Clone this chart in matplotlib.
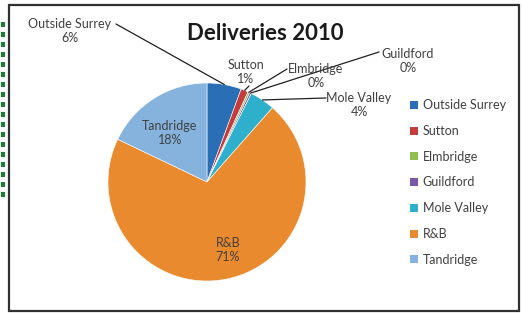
import matplotlib
matplotlib.use("Agg")
import matplotlib.pyplot as plt
from matplotlib.patches import Rectangle, Patch
from matplotlib.lines import Line2D
import numpy as np

plt.rcParams['font.family'] = ['Lato', 'DejaVu Sans']

categories = ["Outside Surrey", "Sutton", "Elmbridge", "Guildford", "Mole Valley", "R&B", "Tandridge"]
values = [5.6, 1.2, 0.3, 0.3, 4.1, 70.6, 17.9]
pct_labels = ["6%", "1%", "0%", "0%", "4%", "71%", "18%"]
colors = ["#2a6fb6", "#c43c3c", "#8fbf4f", "#7a58a8", "#2eb0cc", "#ea8a2e", "#85b3de"]

W, H = 522, 313
fig = plt.figure(figsize=(W / 100, H / 100), dpi=100)
fig.patch.set_facecolor("white")

def fx(x):
    return x / W

def fy(y):
    return 1 - y / H

# chart frame
fig.add_artist(Rectangle((fx(9), fy(311)), fx(510), 306 / H, transform=fig.transFigure,
                         fill=False, edgecolor="#303030", linewidth=1.6))
# green dashed decoration on the far left
fig.add_artist(Line2D([fx(2.5), fx(2.5)], [fy(22), fy(198)], transform=fig.transFigure,
                      color="#1f7a35", linewidth=3, linestyle=(0, (1.2, 1.2))))

cx, cy, r = 207, 182, 99
ax = fig.add_axes([fx(cx - r), fy(cy + r), 2 * r / W, 2 * r / H])
wedges, _ = ax.pie(values, colors=colors, startangle=90, counterclock=False,
                   wedgeprops=dict(linewidth=0.4, edgecolor="white"))
ax.set_xlim(-1, 1)
ax.set_ylim(-1, 1)
ax.set_aspect("equal")
ax.axis("off")

fig.text(fx(265), fy(34), "Deliveries 2010", ha="center", va="center",
         fontsize=16, fontweight="bold", color="#1a1a1a")

lab_col = "#404040"
fs = 9

def mid_point(w, rr=1.0):
    ang = np.deg2rad((w.theta1 + w.theta2) / 2)
    return (rr * np.cos(ang), rr * np.sin(ang))

# outside labels: (index, text center px, leader start px)
outside = [
    (0, (70, 31), (116, 24)),
    (1, (246, 72), (249, 86)),
    (2, (316, 76), (287, 69)),
    (3, (408, 61), (379, 52)),
    (4, (359, 105), (326, 98)),
]
for i, (tx, ty), (lx, ly) in outside:
    fig.text(fx(tx), fy(ty), categories[i] + "\n" + pct_labels[i], ha="center", va="center",
             fontsize=fs, color=lab_col, linespacing=1.15)
    ax.annotate("", xy=mid_point(wedges[i], 1.0), xycoords="data",
                xytext=(lx, H - ly), textcoords="figure pixels",
                arrowprops=dict(arrowstyle="-", color="#202020", lw=0.9,
                                shrinkA=0, shrinkB=0))

# inside labels
for i, (tx, ty) in [(6, (170, 133)), (5, (228, 250))]:
    fig.text(fx(tx), fy(ty), categories[i] + "\n" + pct_labels[i], ha="center", va="center",
             fontsize=fs, color=lab_col, linespacing=1.15)

handles = [Patch(facecolor=c, edgecolor="none") for c in colors]
leg = fig.legend(handles, categories, loc="upper left", bbox_to_anchor=(fx(404), fy(93)),
                 frameon=False, fontsize=9, handlelength=0.6, handleheight=0.6,
                 handletextpad=0.4, labelspacing=1.1, borderpad=0)
for t in leg.get_texts():
    t.set_color(lab_col)

fig.savefig("out.png", dpi=100, facecolor="white")
